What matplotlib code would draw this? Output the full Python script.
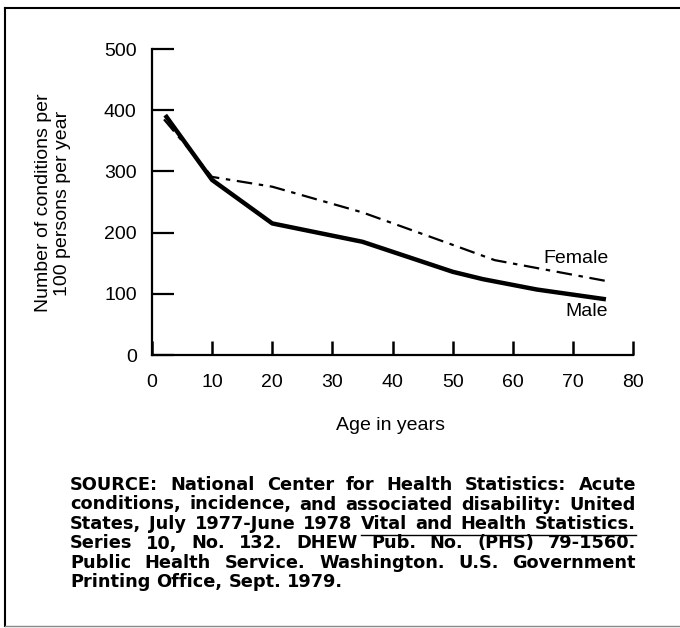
import matplotlib
matplotlib.use("Agg")
import matplotlib.pyplot as plt
from matplotlib.lines import Line2D

# ---- data ----
male_age = [2.2, 10, 20, 35, 50, 55, 64, 75.5]
male_val = [392, 286, 215, 185, 136, 124, 107, 91]
female_age = [2.0, 10, 20, 35, 50, 57, 75.5]
female_val = [385, 291, 275, 233, 180, 155, 121]
x_ticks = [0, 10, 20, 30, 40, 50, 60, 70, 80]
y_ticks = [0, 100, 200, 300, 400, 500]
series_labels = ["Female", "Male"]
source_lines = [
    "SOURCE: National Center for Health Statistics: Acute",
    "conditions, incidence, and associated disability: United",
    "States, July 1977-June 1978 Vital and Health Statistics.",
    "Series 10, No. 132. DHEW Pub. No. (PHS) 79-1560.",
    "Public Health Service. Washington. U.S. Government",
    "Printing Office, Sept. 1979.",
]

W, H = 680, 628
plt.rcParams['font.family'] = ['Liberation Sans', 'DejaVu Sans']
fig = plt.figure(figsize=(W / 100, H / 100), dpi=100)

def px(x, y):
    return x / W, 1 - y / H

ax = fig.add_axes([152 / W, 1 - 355 / H, (633 - 152) / W, (355 - 49) / H])
ax.set_xlim(0, 80)
ax.set_ylim(0, 500)
for s in ["top", "right"]:
    ax.spines[s].set_visible(False)
for s in ["left", "bottom"]:
    ax.spines[s].set_linewidth(1.6)
ax.set_xticks(x_ticks)
ax.set_yticks(y_ticks)
ax.tick_params(axis="x", direction="in", length=10, width=1.8, pad=14, labelsize=14)
ax.tick_params(axis="y", direction="in", length=16, width=1.6, pad=11, labelsize=14)

ax.plot(female_age, female_val, color="black", lw=1.6,
        linestyle=(0, (7, 3, 2, 3)))
ax.plot(male_age, male_val, color="black", lw=3.2, solid_joinstyle="round",
        solid_capstyle="butt")

ax.text(75.9, 158, series_labels[0], fontsize=14, ha="right", va="center")
ax.text(75.9, 71, series_labels[1], fontsize=14, ha="right", va="center")

fig.text(*px(53, 203), "Number of conditions per\n100 persons per year",
         rotation=90, ha="center", va="center", fontsize=14,
         multialignment="center", linespacing=1.15)
fig.text(*px(391, 425), "Age in years", ha="center", va="center", fontsize=14)

# ---- source note, justified ----
renderer = fig.canvas.get_renderer()
left, right = 70, 636
baselines = [490, 509.5, 529, 548.5, 567.5, 587]
src_font = dict(fontsize=12.8, family="DejaVu Sans", fontweight="bold")
for i, (line, yb) in enumerate(zip(source_lines, baselines)):
    words = line.split(" ")
    texts, widths = [], []
    for w in words:
        t = fig.text(0, 0, w, ha="left", va="baseline", **src_font)
        texts.append(t)
        widths.append(t.get_window_extent(renderer).width)
    if i < len(source_lines) - 1:
        gap = (right - left - sum(widths)) / (len(words) - 1)
    else:
        gap = 6
    x = left
    ul_start = None
    for w, t, wd in zip(words, texts, widths):
        t.set_position(px(x, yb))
        if i == 2 and w == "Vital":
            ul_start = x
        x += wd + gap
    if ul_start is not None:
        fig.add_artist(Line2D([ul_start / W, (x - gap) / W],
                              [1 - (yb + 6) / H] * 2, color="black", lw=1.0))

# ---- frame around the figure ----
fig.add_artist(Line2D([5 / W, 5 / W], [1 - 8 / H, 1 - 626 / H], color="black", lw=1.5))
fig.add_artist(Line2D([5 / W, 1], [1 - 8 / H, 1 - 8 / H], color="black", lw=1.5))
fig.add_artist(Line2D([5 / W, 1], [1 - 626 / H, 1 - 626 / H], color="#888888", lw=1.0))

fig.savefig("out.png", dpi=100)
